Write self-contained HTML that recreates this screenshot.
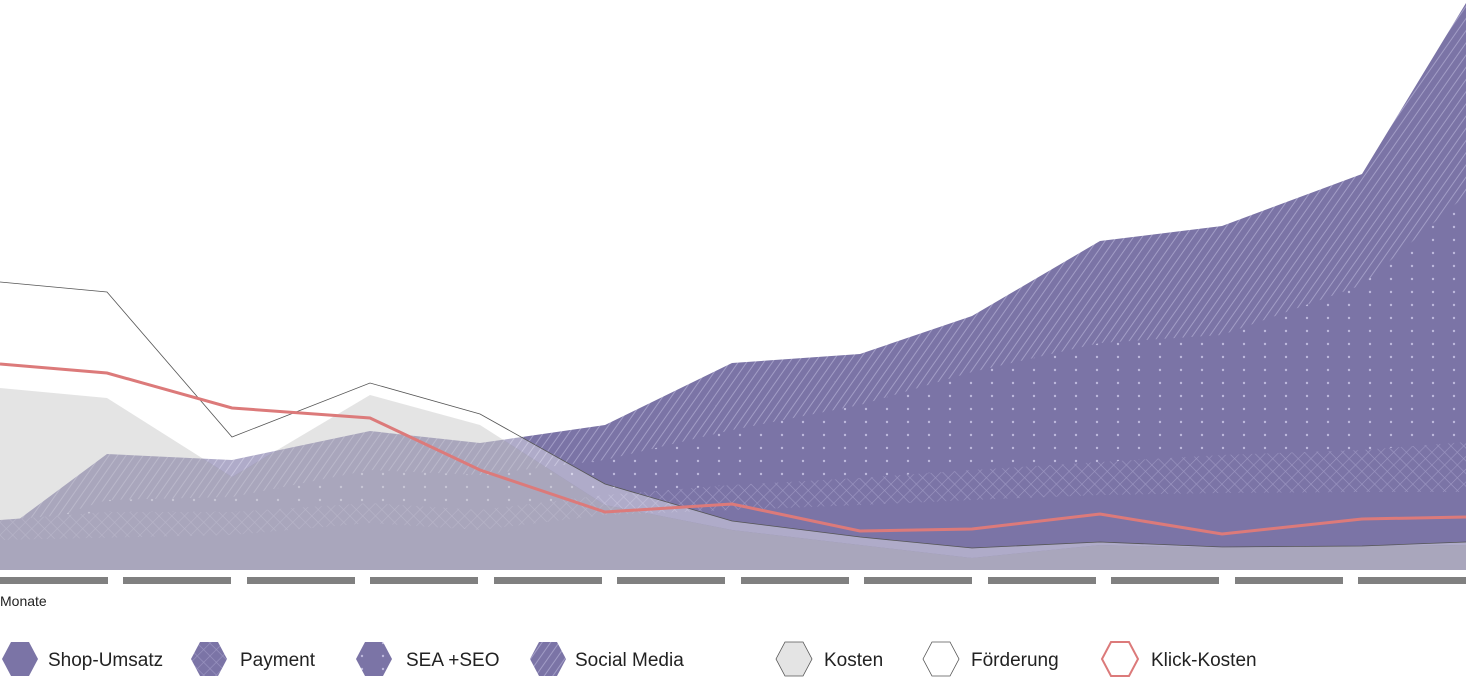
<!DOCTYPE html>
<html><head><meta charset="utf-8"><style>
html,body{margin:0;padding:0;background:#fff;}
body{width:1466px;height:685px;overflow:hidden;font-family:"Liberation Sans",sans-serif;}
</style></head><body>
<svg width="1466" height="685" viewBox="0 0 1466 685" xmlns="http://www.w3.org/2000/svg">
<defs>
<pattern id="diag" width="7" height="7" patternUnits="userSpaceOnUse" patternTransform="rotate(35)">
<rect width="7" height="7" fill="#7b74a6"/><line x1="0" y1="0" x2="0" y2="7" stroke="#a29dc6" stroke-width="2"/></pattern>
<pattern id="dots" width="21" height="13" patternUnits="userSpaceOnUse">
<rect width="21" height="13" fill="#7b74a6"/><circle cx="5" cy="6" r="1.2" fill="#bdb8dc"/></pattern>
<pattern id="cross" width="9" height="9" patternUnits="userSpaceOnUse" patternTransform="rotate(45)">
<rect width="9" height="9" fill="#7b74a6"/><path d="M0 0V9M0 0H9" stroke="#9c96c2" stroke-width="1.2"/></pattern>
</defs>
<polygon fill="url(#diag)" points="0,520 18,520 107,454 232,460 370,431 480,443 605,425 732,363 860,354 972,316 1100,241 1222,226 1362,174 1466,3 1466,570 0,570"/>
<polygon fill="url(#dots)" points="0,535 107,500 232,497 370,470 480,475 605,460 732,430 860,405 972,372 1100,343 1222,335 1362,285 1466,195 1466,570 0,570"/>
<polygon fill="url(#cross)" points="0,520 107,512 232,512 370,503 480,510 605,495 732,485 860,478 972,470 1100,462 1222,455 1362,450 1466,442 1466,570 0,570"/>
<polygon fill="#7b74a6" points="0,540 232,535 370,523 480,530 605,515 732,510 860,505 972,500 1100,495 1222,493 1362,492 1466,492 1466,570 0,570"/>
<!-- Förderung band -->
<polygon fill="rgba(255,255,255,0.4)" points="0,282 107,292 232,437 370,383 480,414 605,484 732,521 860,537 972,548 1100,542 1222,547 1362,546 1466,542 1466,545 1362,546 1222,548 1100,545 972,558 860,545 732,530 605,505 480,425 370,395 232,477 107,398 0,388"/>
<polygon fill="rgba(206,206,206,0.553)" points="0,388 107,398 232,477 370,395 480,425 605,505 732,530 860,545 972,558 1100,545 1222,548 1362,546 1466,545 1466,570 0,570"/>
<polyline fill="none" stroke="#555" stroke-width="0.8" points="0,282 107,292 232,437 370,383 480,414 605,484 732,521 860,537 972,548 1100,542 1222,547 1362,546 1466,542"/>
<polyline fill="none" stroke="#dc7a7a" stroke-width="3" points="0,364 107,373 232,408 370,418 480,470 605,512 732,504 860,531 972,529 1100,514 1222,534 1362,519 1466,517"/>
<g fill="#808080">
<rect x="0" y="577" width="108" height="7"/><rect x="123" y="577" width="108" height="7"/><rect x="247" y="577" width="108" height="7"/><rect x="370" y="577" width="108" height="7"/><rect x="494" y="577" width="108" height="7"/><rect x="617" y="577" width="108" height="7"/><rect x="741" y="577" width="108" height="7"/><rect x="864" y="577" width="108" height="7"/><rect x="988" y="577" width="108" height="7"/><rect x="1111" y="577" width="108" height="7"/><rect x="1235" y="577" width="108" height="7"/><rect x="1358" y="577" width="108" height="7"/>
</g>
<text x="0" y="606" font-size="14" fill="#222">Monate</text>
<g font-size="19" fill="#222">
<polygon points="2,659 11,642 29,642 38,659 29,676 11,676" fill="#7b74a6"/>
<text x="48" y="666">Shop-Umsatz</text>
<polygon points="191,659 200,642 218,642 227,659 218,676 200,676" fill="url(#cross)"/>
<text x="240" y="666">Payment</text>
<polygon points="356,659 365,642 383,642 392,659 383,676 365,676" fill="url(#dots)"/>
<text x="406" y="666">SEA +SEO</text>
<polygon points="530,659 539,642 557,642 566,659 557,676 539,676" fill="url(#diag)"/>
<text x="575" y="666">Social Media</text>
<polygon points="776,659 785,642 803,642 812,659 803,676 785,676" fill="#e4e4e4" stroke="#555" stroke-width="0.8"/>
<text x="824" y="666">Kosten</text>
<polygon points="923,659 932,642 950,642 959,659 950,676 932,676" fill="#fff" stroke="#555" stroke-width="0.8"/>
<text x="971" y="666">Förderung</text>
<polygon points="1102,659 1111,642 1129,642 1138,659 1129,676 1111,676" fill="#fff" stroke="#dc7a7a" stroke-width="2"/>
<text x="1151" y="666">Klick-Kosten</text>
</g>
</svg>
</body></html>
